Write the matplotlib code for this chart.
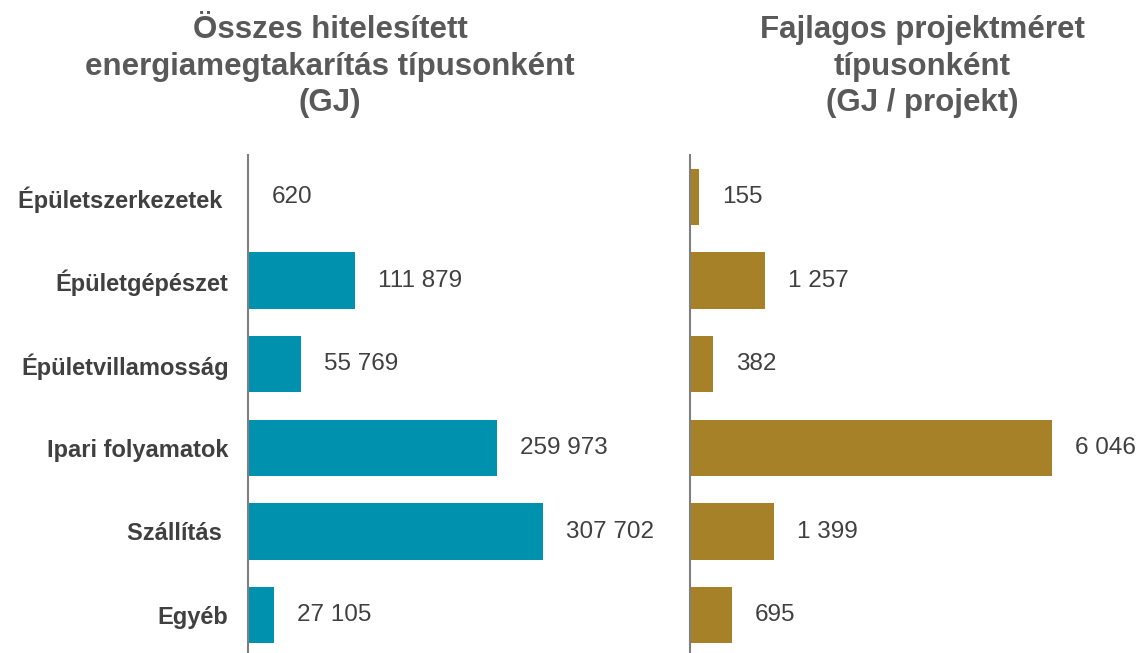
import matplotlib.pyplot as plt

categories = ['Épületszerkezetek ', 'Épületgépészet', 'Épületvillamosság',
              'Ipari folyamatok', 'Szállítás ', 'Egyéb']
total_gj = [620, 111879, 55769, 259973, 307702, 27105]
per_project = [155, 1257, 382, 6046, 1399, 695]

plt.rcParams['font.family'] = ['Liberation Sans', 'DejaVu Sans']

W, H = 1140, 653
fig = plt.figure(figsize=(W / 100, H / 100), dpi=100)


def px_axes(x0, x1, y0, y1):
    return fig.add_axes([x0 / W, 1 - y1 / H, (x1 - x0) / W, (y1 - y0) / H])


def fmt(v):
    return f'{v:,}'.replace(',', ' ')


ax1 = px_axes(248, 640, 155, 657)
ax2 = px_axes(690, 1140, 155, 657)

for ax, vals, color, xmax in [(ax1, total_gj, '#0091AF', 392 / 295 * 307702),
                              (ax2, per_project, '#A68128', 450 / 362 * 6046)]:
    y = range(len(vals))
    ax.barh(y, vals, height=0.67, color=color)
    ax.set_ylim(len(vals) - 0.5, -0.5)
    ax.set_xlim(0, xmax)
    for yi, v in zip(y, vals):
        ax.annotate(fmt(v), (v, yi), xytext=(16.5, 0), textcoords='offset points',
                    va='center', ha='left', fontsize=17.5, color='#404040')
    for s in ['top', 'right', 'bottom']:
        ax.spines[s].set_visible(False)
    ax.spines['left'].set_color('#7f7f7f')
    ax.spines['left'].set_linewidth(1.5)
    ax.set_xticks([])
    ax.tick_params(axis='y', length=0, pad=14)

ax1.set_yticks(range(len(categories)))
ax1.set_yticklabels(categories, fontsize=17, fontweight='bold', color='#404040')
ax2.set_yticks([])

title_kw = dict(ha='center', va='center', fontsize=22.5, fontweight='bold', color='#595959')
for x, yy, txt in [(330, 30, 'Összes hitelesített'),
                   (330, 67, 'energiamegtakarítás típusonként'),
                   (330, 103, '(GJ)'),
                   (922, 30, 'Fajlagos projektméret'),
                   (922, 67, 'típusonként'),
                   (922, 103, '(GJ / projekt)')]:
    fig.text(x / W, 1 - yy / H, txt, **title_kw)

plt.savefig('out.png', dpi=100)
